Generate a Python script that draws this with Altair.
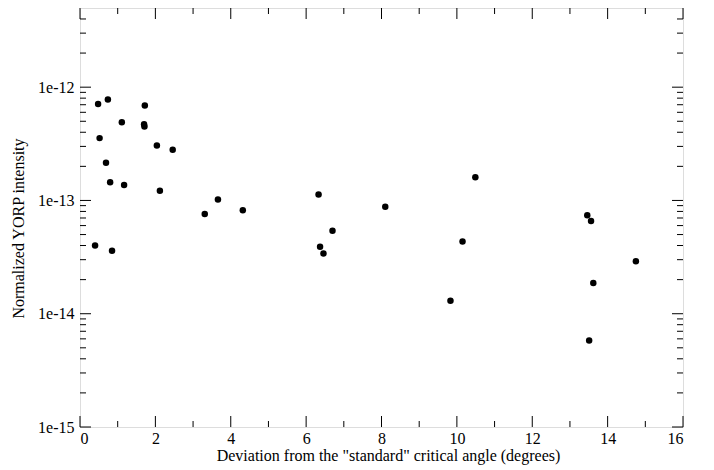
import altair as alt
import pandas as pd

# Data
deviation = [0.40, 0.48, 0.52, 0.69, 0.74, 0.80, 0.85, 1.11, 1.17, 1.70, 1.71, 1.72,
             2.04, 2.12, 2.46, 3.31, 3.66, 4.32, 6.33, 6.37, 6.46, 6.70, 8.10, 9.83,
             10.15, 10.49, 13.46, 13.56, 13.51, 13.62, 14.75]
yorp = [4.0e-14, 7.1e-13, 3.55e-13, 2.15e-13, 7.8e-13, 1.45e-13, 3.6e-14, 4.9e-13, 1.37e-13, 4.7e-13, 4.5e-13, 6.9e-13,
        3.05e-13, 1.22e-13, 2.8e-13, 7.6e-14, 1.02e-13, 8.2e-14, 1.13e-13, 3.9e-14, 3.4e-14, 5.4e-14, 8.8e-14, 1.3e-14,
        4.35e-14, 1.6e-13, 7.4e-14, 6.6e-14, 5.8e-15, 1.87e-14, 2.9e-14]

x_major = [0, 2, 4, 6, 8, 10, 12, 14, 16]
x_minor = [1, 3, 5, 7, 9, 11, 13, 15]
y_major = [1e-15, 1e-14, 1e-13, 1e-12]
y_minor = [k * 10.0 ** e for e in (-15, -14, -13) for k in range(2, 10)] + [2e-12, 3e-12, 4e-12]

W, H = 603, 419
FONT = "Liberation Serif"
FS = 16
MAJ, MIN = 11, 6

df = pd.DataFrame({"dev": deviation, "yorp": yorp})
xs = alt.Scale(domain=[0, 16], nice=False, zero=False)
ys = alt.Scale(type="log", domain=[1e-15, 5e-12], nice=False)

pts = alt.Chart(df).mark_circle(size=42, color="black", opacity=1).encode(
    x=alt.X("dev:Q", scale=xs, axis=alt.Axis(
        values=x_major, format="d", ticks=False, domain=False, grid=False,
        labelFont=FONT, labelFontSize=FS, labelColor="black", labelPadding=3,
        title='Deviation from the "standard" critical angle (degrees)',
        titleFont=FONT, titleFontSize=FS, titleFontWeight="normal", titleColor="black",
        titleX=308, titleY=28, titleBaseline="middle", titleAlign="center")),
    y=alt.Y("yorp:Q", scale=ys, axis=alt.Axis(
        values=y_major, labelExpr="'1e' + round(log(datum.value) / LN10)",
        ticks=False, domain=False, grid=False,
        labelFont=FONT, labelFontSize=FS, labelColor="black", labelPadding=6,
        title="Normalized YORP intensity",
        titleFont=FONT, titleFontSize=FS, titleFontWeight="normal", titleColor="black",
        titleX=-62, titleY=220, titleAngle=270, titleBaseline="middle", titleAlign="center")),
)

def xticks(vals, length):
    d = pd.DataFrame({"v": vals})
    base = alt.Chart(d).mark_rule(color="black", strokeWidth=1)
    bot = base.encode(x=alt.X("v:Q", scale=xs), y=alt.value(H), y2=alt.value(H - length))
    top = base.encode(x=alt.X("v:Q", scale=xs), y=alt.value(0), y2=alt.value(length))
    return [bot, top]

def yticks(vals, length):
    d = pd.DataFrame({"v": vals})
    base = alt.Chart(d).mark_rule(color="black", strokeWidth=1)
    left = base.encode(y=alt.Y("v:Q", scale=ys), x=alt.value(0), x2=alt.value(length))
    right = base.encode(y=alt.Y("v:Q", scale=ys), x=alt.value(W), x2=alt.value(W - length))
    return [left, right]

layers = xticks(x_major, MAJ) + xticks(x_minor, MIN) + yticks(y_major, MAJ) + yticks(y_minor, MIN) + [pts]

chart = alt.layer(*layers).properties(
    width=W, height=H,
    autosize=alt.AutoSizeParams(type="none"),
    padding={"left": 72, "top": 0, "right": 23, "bottom": 40},
).configure_view(stroke="black", strokeWidth=1.5).configure(background="white")

chart.save("out.html", embed_options={"renderer": "svg", "actions": False})
